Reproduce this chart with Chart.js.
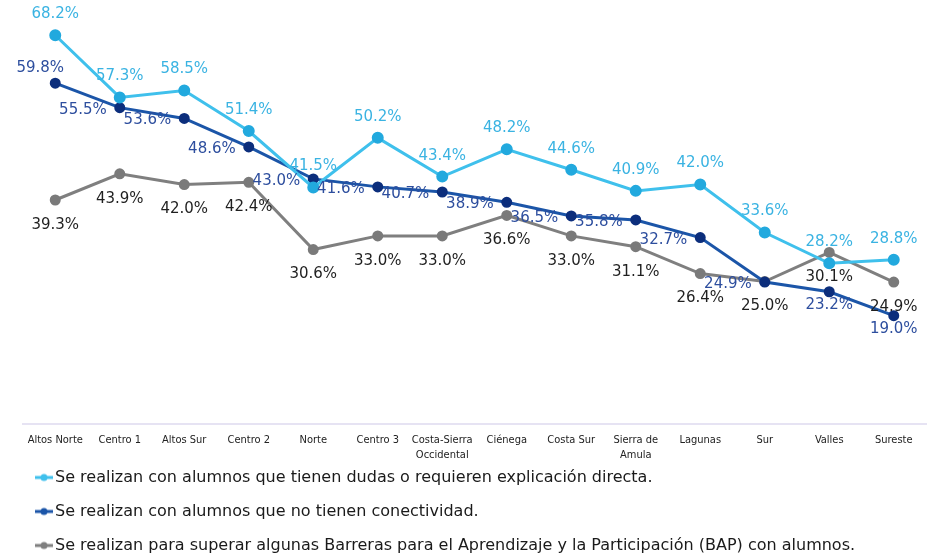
<!DOCTYPE html>
<html>
<head>
<meta charset="utf-8">
<script src="https://cdn.jsdelivr.net/npm/chart.js@4.4.1/dist/chart.umd.min.js"></script>
<style>
  html, body { margin: 0; padding: 0; background: #ffffff; }
  #wrap { width: 942px; height: 555px; position: relative; }
</style>
</head>
<body>
<div id="wrap"><canvas id="c" width="942" height="555"></canvas></div>
<script>
// ---- data ----
const categories = ['Altos Norte', 'Centro 1', 'Altos Sur', 'Centro 2', 'Norte', 'Centro 3',
  ['Costa-Sierra', 'Occidental'], 'Ciénega', 'Costa Sur', ['Sierra de', 'Amula'], 'Lagunas', 'Sur', 'Valles', 'Sureste'];

const seriesNames = [
  'Se realizan con alumnos que tienen dudas o requieren explicación directa.',
  'Se realizan con alumnos que no tienen conectividad.',
  'Se realizan para superar algunas Barreras para el Aprendizaje y la Participación (BAP) con alumnos.'
];

const dudas = [68.2, 57.3, 58.5, 51.4, 41.5, 50.2, 43.4, 48.2, 44.6, 40.9, 42.0, 33.6, 28.2, 28.8];
const conectividad = [59.8, 55.5, 53.6, 48.6, 43.0, 41.6, 40.7, 38.9, 36.5, 35.8, 32.7, 24.9, 23.2, 19.0];
const barreras = [39.3, 43.9, 42.0, 42.4, 30.6, 33.0, 33.0, 36.6, 33.0, 31.1, 26.4, 25.0, 30.1, 24.9];

// ---- styles ----
const C_LIGHT = '#3FC0EC', C_LIGHT_PT = '#22A9DE', C_LIGHT_TXT = '#3AB3E2';
const C_DARK = '#1B55A8', C_DARK_PT = '#0C2E7C', C_DARK_TXT = '#2D4E9E';
const C_GRAY = '#7F7F7F', C_GRAY_PT = '#7A7A7A', C_GRAY_TXT = '#1F1F1F';
const LABEL_FONT = '15px "DejaVu Sans", "Noto Sans", sans-serif';

function legendMarker(color) {
  const cv = document.createElement('canvas');
  cv.width = 18; cv.height = 10;
  const g = cv.getContext('2d');
  g.strokeStyle = color; g.lineWidth = 3;
  g.beginPath(); g.moveTo(0, 5); g.lineTo(18, 5); g.stroke();
  g.fillStyle = color;
  g.beginPath(); g.arc(9, 5, 3.5, 0, Math.PI * 2); g.fill();
  return cv;
}
const markers = [legendMarker(C_LIGHT), legendMarker(C_DARK), legendMarker(C_GRAY)];

// label placement rules per series: returns {dx, dy, align}
const placeRules = [
  (i, n) => ({ dx: 0, dy: -21, align: 'center' }),
  (i, n) => {
    if (i === 0) return { dx: -15, dy: -15, align: 'center' };
    if (i >= n - 2) return { dx: 0, dy: 13, align: 'center' };
    return { dx: -13, dy: 2, align: 'right' };
  },
  (i, n) => ({ dx: 0, dy: 25, align: 'center' })
];
const labelColors = [C_LIGHT_TXT, C_DARK_TXT, C_GRAY_TXT];

const valueLabels = {
  id: 'valueLabels',
  afterDatasetsDraw(chart) {
    const ctx = chart.ctx;
    ctx.save();
    ctx.font = LABEL_FONT;
    ctx.textBaseline = 'middle';
    chart.data.datasets.forEach((ds, di) => {
      const meta = chart.getDatasetMeta(di);
      const n = meta.data.length;
      meta.data.forEach((pt, i) => {
        const r = placeRules[di](i, n);
        ctx.fillStyle = labelColors[di];
        ctx.textAlign = r.align;
        ctx.fillText(ds.data[i].toFixed(1) + '%', pt.x + r.dx, pt.y + r.dy);
      });
    });
    ctx.restore();
  }
};

// move the legend's top edge up a little so it sits right under the axis labels
const legendShift = {
  id: 'legendShift',
  afterLayout(chart) {
    const l = chart.legend;
    if (l) { l.top -= 12.5; l.height = l.bottom - l.top; }
  }
};

new Chart(document.getElementById('c'), {
  type: 'line',
  data: {
    labels: categories,
    datasets: [
      { label: seriesNames[0], data: dudas, borderColor: C_LIGHT, backgroundColor: C_LIGHT_PT,
        pointBackgroundColor: C_LIGHT_PT, pointBorderColor: C_LIGHT_PT, borderWidth: 3, pointRadius: 4.5, tension: 0 },
      { label: seriesNames[1], data: conectividad, borderColor: C_DARK, backgroundColor: C_DARK_PT,
        pointBackgroundColor: C_DARK_PT, pointBorderColor: C_DARK_PT, borderWidth: 3, pointRadius: 4, tension: 0 },
      { label: seriesNames[2], data: barreras, borderColor: C_GRAY, backgroundColor: C_GRAY_PT,
        pointBackgroundColor: C_GRAY_PT, pointBorderColor: C_GRAY_PT, borderWidth: 3, pointRadius: 4, tension: 0 }
    ]
  },
  options: {
    responsive: false,
    animation: false,
    devicePixelRatio: 1,
    layout: { padding: { left: 23, right: 16, top: 25, bottom: 0 } },
    scales: {
      x: {
        offset: true,
        grid: { display: false, drawTicks: false },
        border: { display: true, color: '#E6E3F3', width: 2 },
        ticks: {
          color: '#222222', padding: 9, maxRotation: 0, autoSkip: false,
          font: { family: '"Liberation Sans Narrow", "DejaVu Sans Condensed", "Liberation Sans", sans-serif', size: 11, lineHeight: 1.35 }
        },
        afterFit(scale) { scale.height = 40; }
      },
      y: { display: false, min: 0, max: 70 }
    },
    plugins: {
      tooltip: { enabled: false },
      legend: {
        display: true,
        position: 'bottom',
        align: 'start',
        maxHeight: 91,
        labels: {
          usePointStyle: true,
          pointStyleWidth: 6,
          padding: 18,
          color: '#1a1a1a',
          font: { family: '"DejaVu Sans", "Noto Sans", sans-serif', size: 16 },
          generateLabels(chart) {
            const items = Chart.defaults.plugins.legend.labels.generateLabels(chart);
            items.forEach((it, i) => { it.pointStyle = markers[i]; });
            return items;
          }
        }
      }
    }
  },
  plugins: [valueLabels, legendShift]
});
</script>
</body>
</html>
